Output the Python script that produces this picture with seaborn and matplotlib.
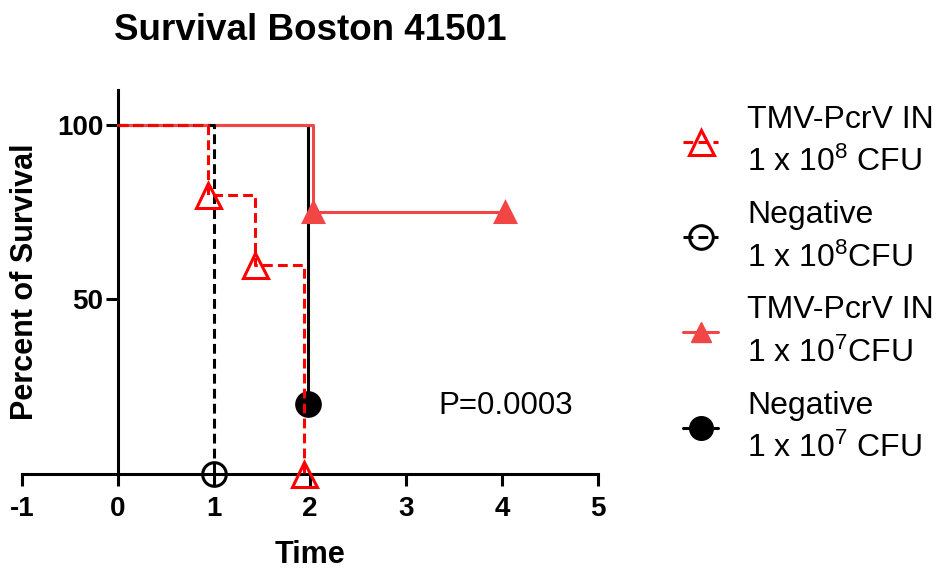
import matplotlib
matplotlib.use("Agg")
import matplotlib.pyplot as plt
import seaborn as sns
import pandas as pd
from matplotlib.lines import Line2D

# ---- data ----
tmv8_t = [0, 0.94, 1.43, 1.94]
tmv8_s = [100, 80, 60, 0]
neg8_t = [0, 1.0]
neg8_s = [100, 0]
tmv7_t = [0, 2.03, 4.03]
tmv7_s = [100, 75, 75]
neg7_t = [0, 1.98]
neg7_s = [100, 20]

labels = ["TMV-PcrV IN\n1 x 10$^{8}$ CFU", "Negative\n1 x 10$^{8}$CFU",
          "TMV-PcrV IN\n1 x 10$^{7}$CFU", "Negative\n1 x 10$^{7}$ CFU"]
x_ticks = [-1, 0, 1, 2, 3, 4, 5]
y_ticks = [50, 100]

sns.set_theme(style="white")
plt.rcParams['font.family'] = ['Liberation Sans', 'DejaVu Sans']
plt.rcParams['mathtext.default'] = 'regular'
plt.rcParams['mathtext.fontset'] = 'custom'
plt.rcParams['mathtext.rm'] = 'Liberation Sans'
for k in ['text.color', 'axes.labelcolor', 'xtick.color', 'ytick.color']:
    plt.rcParams[k] = 'black'

fig = plt.figure(figsize=(9.41, 5.72), dpi=100)
ax = fig.add_axes([22/941, 98/572, 576/941, 384/572])

RED = "#FF0000"
SALMON = "#F24646"
LW = 2.2
DASH = (0, (3.2, 1.7))

def draw(t, s, color, ls, marker, mfc, ms, z):
    df = pd.DataFrame({"t": t, "s": s})
    sns.lineplot(data=df, x="t", y="s", ax=ax, color=color, linestyle=ls,
                 linewidth=LW, drawstyle="steps-post", marker=marker,
                 markevery=list(range(1, len(t))), markersize=ms,
                 markerfacecolor=mfc, markeredgecolor=color,
                 markeredgewidth=2.2, clip_on=False, zorder=z,
                 estimator=None, sort=False)

draw(neg7_t, neg7_s, "black", "-", "o", "black", 17, 3)
draw(tmv7_t, tmv7_s, SALMON, "-", "^", SALMON, 15, 4)
draw(neg8_t, neg8_s, "black", DASH, "o", "none", 17, 5)
draw(tmv8_t, tmv8_s, RED, DASH, "^", "none", 18, 6)

ax.set_xlim(-1, 5)
ax.set_ylim(0, 110)
for sp in ["top", "right"]:
    ax.spines[sp].set_visible(False)
ax.spines["left"].set_position(("data", 0))
for sp in ["left", "bottom"]:
    ax.spines[sp].set_linewidth(2.2)
    ax.spines[sp].set_color("black")
    ax.spines[sp].set_zorder(2)

ax.set_xticks(x_ticks)
ax.set_xticklabels([str(v) for v in x_ticks])
ax.set_yticks(y_ticks)
ax.set_yticklabels([str(v) for v in y_ticks])
ax.tick_params(axis="both", which="both", direction="out", length=8.5, width=2.2,
               color="black", labelsize=20, bottom=True, left=True)
ax.tick_params(axis="x", pad=7)
ax.tick_params(axis="y", pad=2)
for lab in ax.get_xticklabels() + ax.get_yticklabels():
    lab.set_fontweight("bold")

ax.set_xlabel("Time", fontsize=22, fontweight="bold", labelpad=13)
ax.set_ylabel("")
fig.text(25/941, 1 - 282/572, "Percent of Survival", rotation=90, fontsize=22,
         fontweight="bold", ha="center", va="center")
ax.set_title("Survival Boston 41501", fontsize=26.5, fontweight="bold", pad=36)

ax.text(3.34, 19.5, "P=0.0003", fontsize=22.5, ha="left", va="center")

handles = [
    Line2D([], [], color=RED, ls=DASH, lw=LW, marker="^", ms=18,
           mfc="none", mec=RED, mew=2.2),
    Line2D([], [], color="black", ls=DASH, lw=LW, marker="o", ms=17,
           mfc="none", mec="black", mew=2.2),
    Line2D([], [], color=SALMON, ls="-", lw=LW, marker="^", ms=15,
           mfc=SALMON, mec=SALMON),
    Line2D([], [], color="black", ls="-", lw=LW, marker="o", ms=17,
           mfc="black", mec="black"),
]
leg = ax.legend(handles, labels, loc="upper left",
                bbox_to_anchor=(683/941, 1 - 105/572),
                bbox_transform=fig.transFigure, frameon=False, fontsize=23,
                handlelength=1.1, handletextpad=0.9, labelspacing=0.68,
                borderpad=0, borderaxespad=0)
for txt in leg.get_texts():
    txt.set_linespacing(1.5)

fig.savefig("out.png", dpi=100)
